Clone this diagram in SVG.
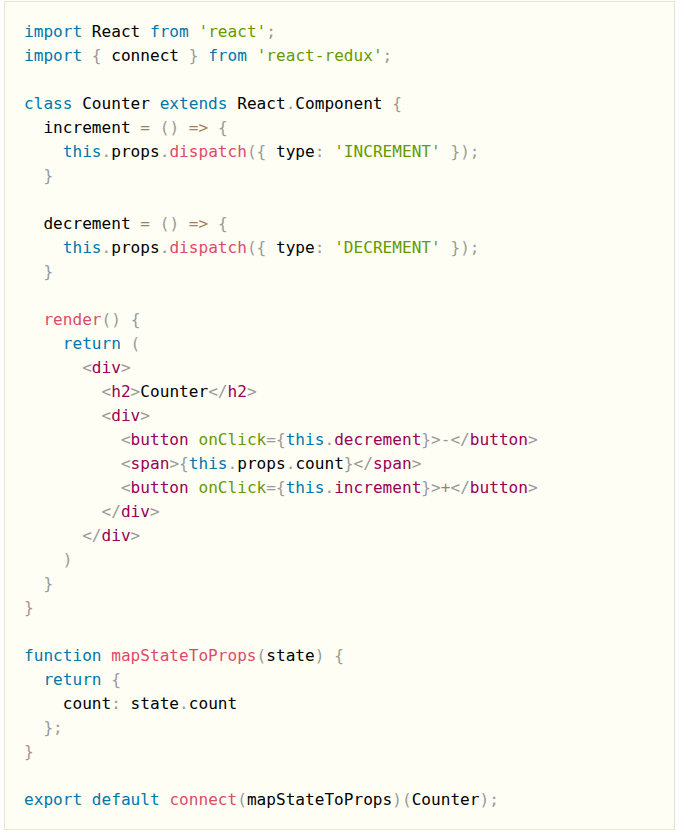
<svg xmlns="http://www.w3.org/2000/svg" width="681" height="835" viewBox="0 0 681 835">
<style>
text{font-family:"DejaVu Sans Mono","Liberation Mono",monospace;font-size:16.1px;fill:#000;white-space:pre}
.k{fill:#0077aa}.s{fill:#669900}.f{fill:#dd4a68}.p{fill:#999999}.o{fill:#a67f59}.t{fill:#990055}.a{fill:#669900}
</style>
<rect x="0" y="0" width="681" height="835" fill="#ffffff"/>
<g id="code-block">
<rect x="4.5" y="1.5" width="670" height="828" fill="#fefef5" stroke="#e8e5cf" stroke-width="1"/>
<g id="code" xml:space="preserve">
<text x="24" y="37"><tspan class="k">import</tspan> React <tspan class="k">from</tspan> <tspan class="s">'react'</tspan><tspan class="p">;</tspan></text>
<text x="24" y="61"><tspan class="k">import</tspan> <tspan class="p">{</tspan> connect <tspan class="p">}</tspan> <tspan class="k">from</tspan> <tspan class="s">'react-redux'</tspan><tspan class="p">;</tspan></text>
<text x="24" y="109"><tspan class="k">class</tspan> Counter <tspan class="k">extends</tspan> React<tspan class="p">.</tspan>Component <tspan class="p">{</tspan></text>
<text x="24" y="133">  increment <tspan class="o">=</tspan> <tspan class="p">()</tspan> <tspan class="o">=&gt;</tspan> <tspan class="p">{</tspan></text>
<text x="24" y="157">    <tspan class="k">this</tspan><tspan class="p">.</tspan>props<tspan class="p">.</tspan><tspan class="f">dispatch</tspan><tspan class="p">({</tspan> type<tspan class="p">:</tspan> <tspan class="s">'INCREMENT'</tspan> <tspan class="p">});</tspan></text>
<text x="24" y="181">  <tspan class="p">}</tspan></text>
<text x="24" y="229">  decrement <tspan class="o">=</tspan> <tspan class="p">()</tspan> <tspan class="o">=&gt;</tspan> <tspan class="p">{</tspan></text>
<text x="24" y="253">    <tspan class="k">this</tspan><tspan class="p">.</tspan>props<tspan class="p">.</tspan><tspan class="f">dispatch</tspan><tspan class="p">({</tspan> type<tspan class="p">:</tspan> <tspan class="s">'DECREMENT'</tspan> <tspan class="p">});</tspan></text>
<text x="24" y="277">  <tspan class="p">}</tspan></text>
<text x="24" y="325">  <tspan class="f">render</tspan><tspan class="p">()</tspan> <tspan class="p">{</tspan></text>
<text x="24" y="349">    <tspan class="k">return</tspan> <tspan class="p">(</tspan></text>
<text x="24" y="373">      <tspan class="p">&lt;</tspan><tspan class="t">div</tspan><tspan class="p">&gt;</tspan></text>
<text x="24" y="397">        <tspan class="p">&lt;</tspan><tspan class="t">h2</tspan><tspan class="p">&gt;</tspan>Counter<tspan class="p">&lt;/</tspan><tspan class="t">h2</tspan><tspan class="p">&gt;</tspan></text>
<text x="24" y="421">        <tspan class="p">&lt;</tspan><tspan class="t">div</tspan><tspan class="p">&gt;</tspan></text>
<text x="24" y="445">          <tspan class="p">&lt;</tspan><tspan class="t">button</tspan> <tspan class="a">onClick</tspan><tspan class="p">={</tspan><tspan class="k">this</tspan><tspan class="p">.</tspan><tspan class="t">decrement</tspan><tspan class="p">}&gt;-&lt;/</tspan><tspan class="t">button</tspan><tspan class="p">&gt;</tspan></text>
<text x="24" y="469">          <tspan class="p">&lt;</tspan><tspan class="t">span</tspan><tspan class="p">&gt;{</tspan><tspan class="k">this</tspan><tspan class="p">.</tspan>props<tspan class="p">.</tspan>count<tspan class="p">}&lt;/</tspan><tspan class="t">span</tspan><tspan class="p">&gt;</tspan></text>
<text x="24" y="493">          <tspan class="p">&lt;</tspan><tspan class="t">button</tspan> <tspan class="a">onClick</tspan><tspan class="p">={</tspan><tspan class="k">this</tspan><tspan class="p">.</tspan><tspan class="t">increment</tspan><tspan class="p">}&gt;</tspan><tspan class="o">+</tspan><tspan class="p">&lt;/</tspan><tspan class="t">button</tspan><tspan class="p">&gt;</tspan></text>
<text x="24" y="517">        <tspan class="p">&lt;/</tspan><tspan class="t">div</tspan><tspan class="p">&gt;</tspan></text>
<text x="24" y="541">      <tspan class="p">&lt;/</tspan><tspan class="t">div</tspan><tspan class="p">&gt;</tspan></text>
<text x="24" y="565">    <tspan class="p">)</tspan></text>
<text x="24" y="589">  <tspan class="p">}</tspan></text>
<text x="24" y="613"><tspan class="p">}</tspan></text>
<text x="24" y="661"><tspan class="k">function</tspan> <tspan class="f">mapStateToProps</tspan><tspan class="p">(</tspan>state<tspan class="p">)</tspan> <tspan class="p">{</tspan></text>
<text x="24" y="685">  <tspan class="k">return</tspan> <tspan class="p">{</tspan></text>
<text x="24" y="709">    count<tspan class="p">:</tspan> state<tspan class="p">.</tspan>count</text>
<text x="24" y="733">  <tspan class="p">};</tspan></text>
<text x="24" y="757"><tspan class="p">}</tspan></text>
<text x="24" y="805"><tspan class="k">export</tspan> <tspan class="k">default</tspan> <tspan class="f">connect</tspan><tspan class="p">(</tspan>mapStateToProps<tspan class="p">)(</tspan>Counter<tspan class="p">);</tspan></text>
</g>
</g>
</svg>
